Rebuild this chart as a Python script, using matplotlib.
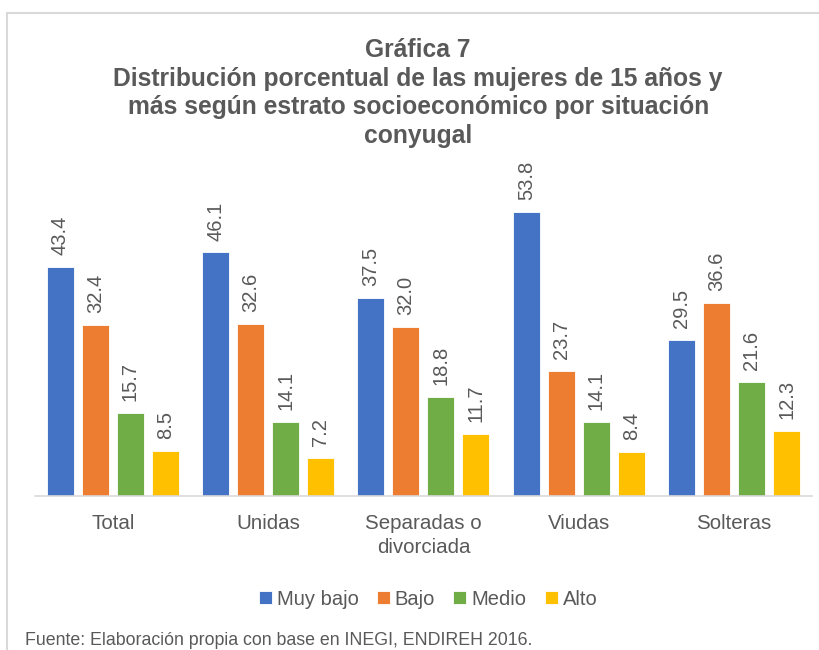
import numpy as np
import matplotlib.pyplot as plt
from matplotlib.patches import Rectangle

plt.rcParams['font.family'] = ['Liberation Sans', 'DejaVu Sans']

# Data
categories = ["Total", "Unidas", "Separadas o\ndivorciada", "Viudas", "Solteras"]
series_names = ["Muy bajo", "Bajo", "Medio", "Alto"]
muy_bajo = [43.4, 46.1, 37.5, 53.8, 29.5]
bajo = [32.4, 32.6, 32.0, 23.7, 36.6]
medio = [15.7, 14.1, 18.8, 14.1, 21.6]
alto = [8.5, 7.2, 11.7, 8.4, 12.3]
colors = ["#4472C4", "#ED7D31", "#70AD47", "#FFC000"]

text_col = "#595959"

fig = plt.figure(figsize=(8.2, 6.5), dpi=100)
ax = fig.add_axes([0.0427, 0.2369, 0.9473, 0.4877])

x = np.arange(len(categories))
bar_w = 0.174
step = 0.225
for i, (vals, name, col) in enumerate(zip([muy_bajo, bajo, medio, alto], series_names, colors)):
    pos = x + (i - 1.5) * step
    bars = ax.bar(pos, vals, width=bar_w, color=col, edgecolor="white", linewidth=0.6, label=name)
    for b, v in zip(bars, vals):
        ax.annotate(f"{v:.1f}", (b.get_x() + b.get_width() / 2, v), xytext=(0, 8.5),
                    textcoords="offset points", rotation=90, ha="center", va="bottom",
                    fontsize=14.5, color=text_col)

ax.set_xlim(-0.5, len(categories) - 0.5)
ax.set_ylim(0, 60)
ax.set_yticks([])
for s in ["top", "right", "left"]:
    ax.spines[s].set_visible(False)
ax.spines["bottom"].set_color("#D9D9D9")
ax.spines["bottom"].set_linewidth(1.2)
ax.set_xticks(x)
ax.set_xticklabels(categories, fontsize=14.8, color=text_col, linespacing=1.3)
ax.tick_params(axis="x", length=0, pad=13)

# title
fig.text(0.51, 0.941, "Gráfica 7\nDistribución porcentual de las mujeres de 15 años y\n"
         "más según estrato socioeconómico por situación\nconyugal",
         ha="center", va="top", fontsize=17.7, fontweight="bold", color=text_col, linespacing=1.24)

# legend
fig.legend(loc="center", bbox_to_anchor=(0.522, 0.078), ncol=4, frameon=False,
           fontsize=14.5, handlelength=0.65, handleheight=0.65, handletextpad=0.25,
           columnspacing=0.9, labelcolor=text_col)

# source note
fig.text(0.03, 0.015, "Fuente: Elaboración propia con base en INEGI, ENDIREH 2016.",
         ha="left", va="center", fontsize=12.8, color=text_col)

# chart border
fig.patches.append(Rectangle((0.0085, -0.05), 1.2, 1.03, transform=fig.transFigure,
                             fill=False, edgecolor="#D9D9D9", linewidth=1.5))

fig.savefig("out.png", dpi=100)
